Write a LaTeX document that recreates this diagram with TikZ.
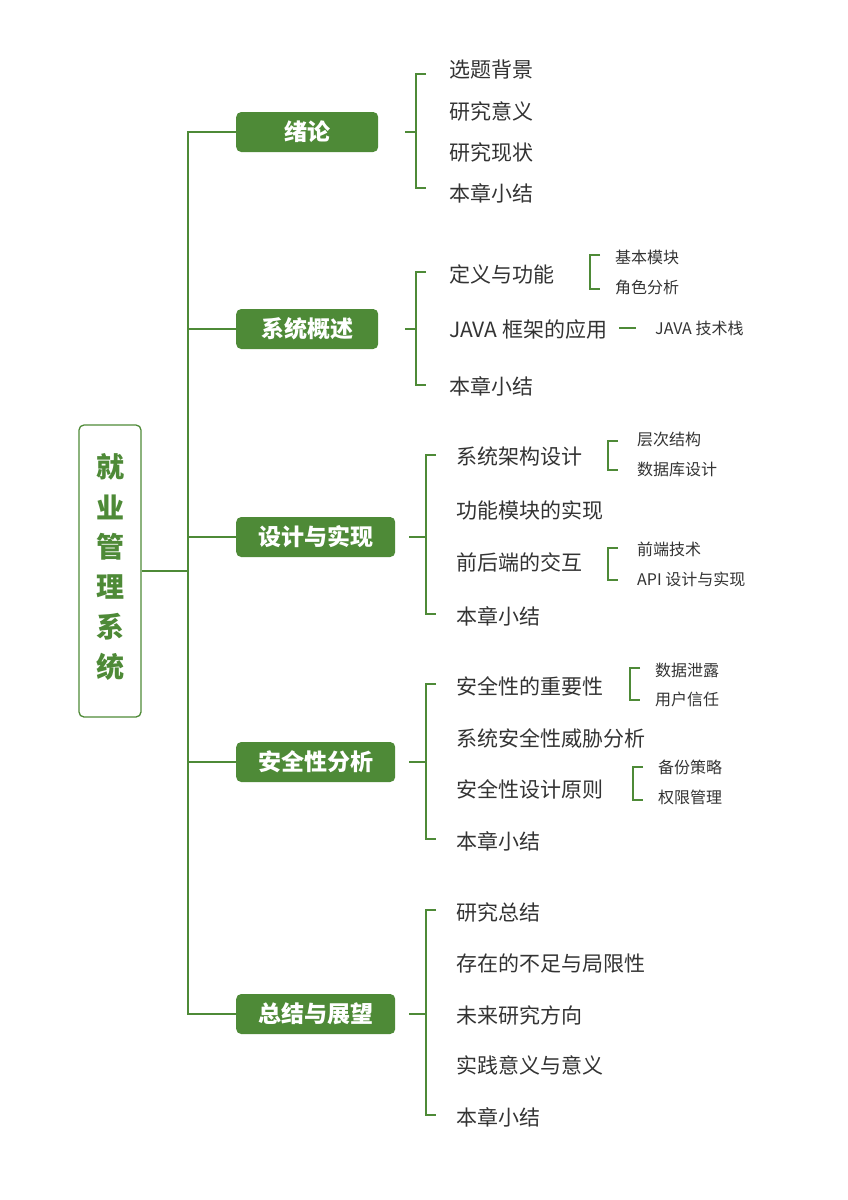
\documentclass[tikz,border=0pt]{standalone}
\usepackage{fontspec}
\setmainfont{Noto Sans CJK SC}
\usetikzlibrary{positioning,calc}
\definecolor{leaf}{HTML}{4E8A37}
\definecolor{ink}{HTML}{333333}
\tikzset{
  topic/.style={fill=leaf,rounded corners=5pt,text=white,font=\fontsize{23}{23}\selectfont\bfseries,minimum height=40pt,inner xsep=14pt,anchor=west},
  item/.style={text=ink,font=\fontsize{21}{21}\selectfont,anchor=west,inner sep=0pt},
  sub/.style={text=ink,font=\fontsize{16}{16}\selectfont,anchor=west,inner sep=0pt},
  wire/.style={leaf,line width=1.3pt}
}
\newcommand{\brk}[3]{\draw[wire] (#1+10,#2) -- (#1,#2) -- (#1,#3) -- (#1+10,#3);}
\begin{document}
\begin{tikzpicture}[x=1pt,y=-1pt]
    \useasboundingbox (0,0) rectangle (848,1200);
    % root
    \node[draw=leaf,line width=1.3pt,rounded corners=5pt,minimum width=62pt,minimum height=292pt] (root) at (110,571) {};
    \foreach \c [count=\i] in {就,业,管,理,系,统}
      \node[text=leaf,font=\fontsize{28}{28}\selectfont\bfseries] (r\i) at (110,427+40*\i) {\c};
    % topics
    \node[topic,minimum width=142pt] (t1) at (236,132) {绪论};
    \node[topic,minimum width=142pt] (t2) at (236,329) {系统概述};
    \node[topic,minimum width=159pt] (t3) at (236,537) {设计与实现};
    \node[topic,minimum width=159pt] (t4) at (236,762) {安全性分析};
    \node[topic,minimum width=159pt] (t5) at (236,1014) {总结与展望};
    \coordinate (trunk) at (188,571);
    \draw[wire] (root.east) -- (trunk);
    \draw[wire] (t1.west) -| (trunk) |- (t5.west);
    \foreach \t in {t2,t3,t4}
      \draw[wire] (188,0 |- \t.west) -- (\t.west);
    % 绪论
    \foreach \s/\y [count=\i] in {选题背景/70,研究意义/111,研究现状/152,本章小结/193}
      \node[item] (a\i) at (449,\y) {\s};
    \brk{416}{74}{188}
    \draw[wire] (405,132) -- (416,132);
    % 系统概述
    \node[item] (b1) at (449,274) {定义与功能};
    \node[item] (b2) at (449,330) {JAVA 框架的应用};
    \node[item] (b3) at (449,386) {本章小结};
    \brk{416}{272}{385}
    \draw[wire] (405,329) -- (416,329);
    \node[sub] (b11) at (615,257) {基本模块};
    \node[sub] (b12) at (615,287) {角色分析};
    \brk{590}{255}{289}
    \node[sub] (b21) at (655,328) {JAVA 技术栈};
    \draw[wire] (b2.east) ++(12,-2) -- ++(17,0);
    % 设计与实现
    \foreach \s/\y [count=\i] in {系统架构设计/457,功能模块的实现/510,前后端的交互/562,本章小结/616}
      \node[item] (c\i) at (456,\y) {\s};
    \brk{426}{455}{614}
    \draw[wire] (t3.east) ++(14,0) -- (426,537);
    \node[sub] (c11) at (637,439) {层次结构};
    \node[sub] (c12) at (637,469) {数据库设计};
    \brk{608}{441}{470}
    \node[sub] (c31) at (637,549) {前端技术};
    \node[sub] (c32) at (637,579) {API 设计与实现};
    \brk{608}{548}{580}
    % 安全性分析
    \foreach \s/\y [count=\i] in {安全性的重要性/686,系统安全性威胁分析/738,安全性设计原则/789,本章小结/841}
      \node[item] (d\i) at (456,\y) {\s};
    \brk{426}{684}{839}
    \draw[wire] (t4.east) ++(14,0) -- (426,762);
    \node[sub] (d11) at (655,670) {数据泄露};
    \node[sub] (d12) at (655,699) {用户信任};
    \brk{630}{668}{700}
    \node[sub] (d31) at (658,767) {备份策略};
    \node[sub] (d32) at (658,797) {权限管理};
    \brk{633}{767}{800}
    % 总结与展望
    \foreach \s/\y [count=\i] in {研究总结/912,存在的不足与局限性/963,未来研究方向/1015,实践意义与意义/1065,本章小结/1117}
      \node[item] (e\i) at (456,\y) {\s};
    \brk{426}{910}{1115}
    \draw[wire] (t5.east) ++(14,0) -- (426,1014);
\end{tikzpicture}
\end{document}
